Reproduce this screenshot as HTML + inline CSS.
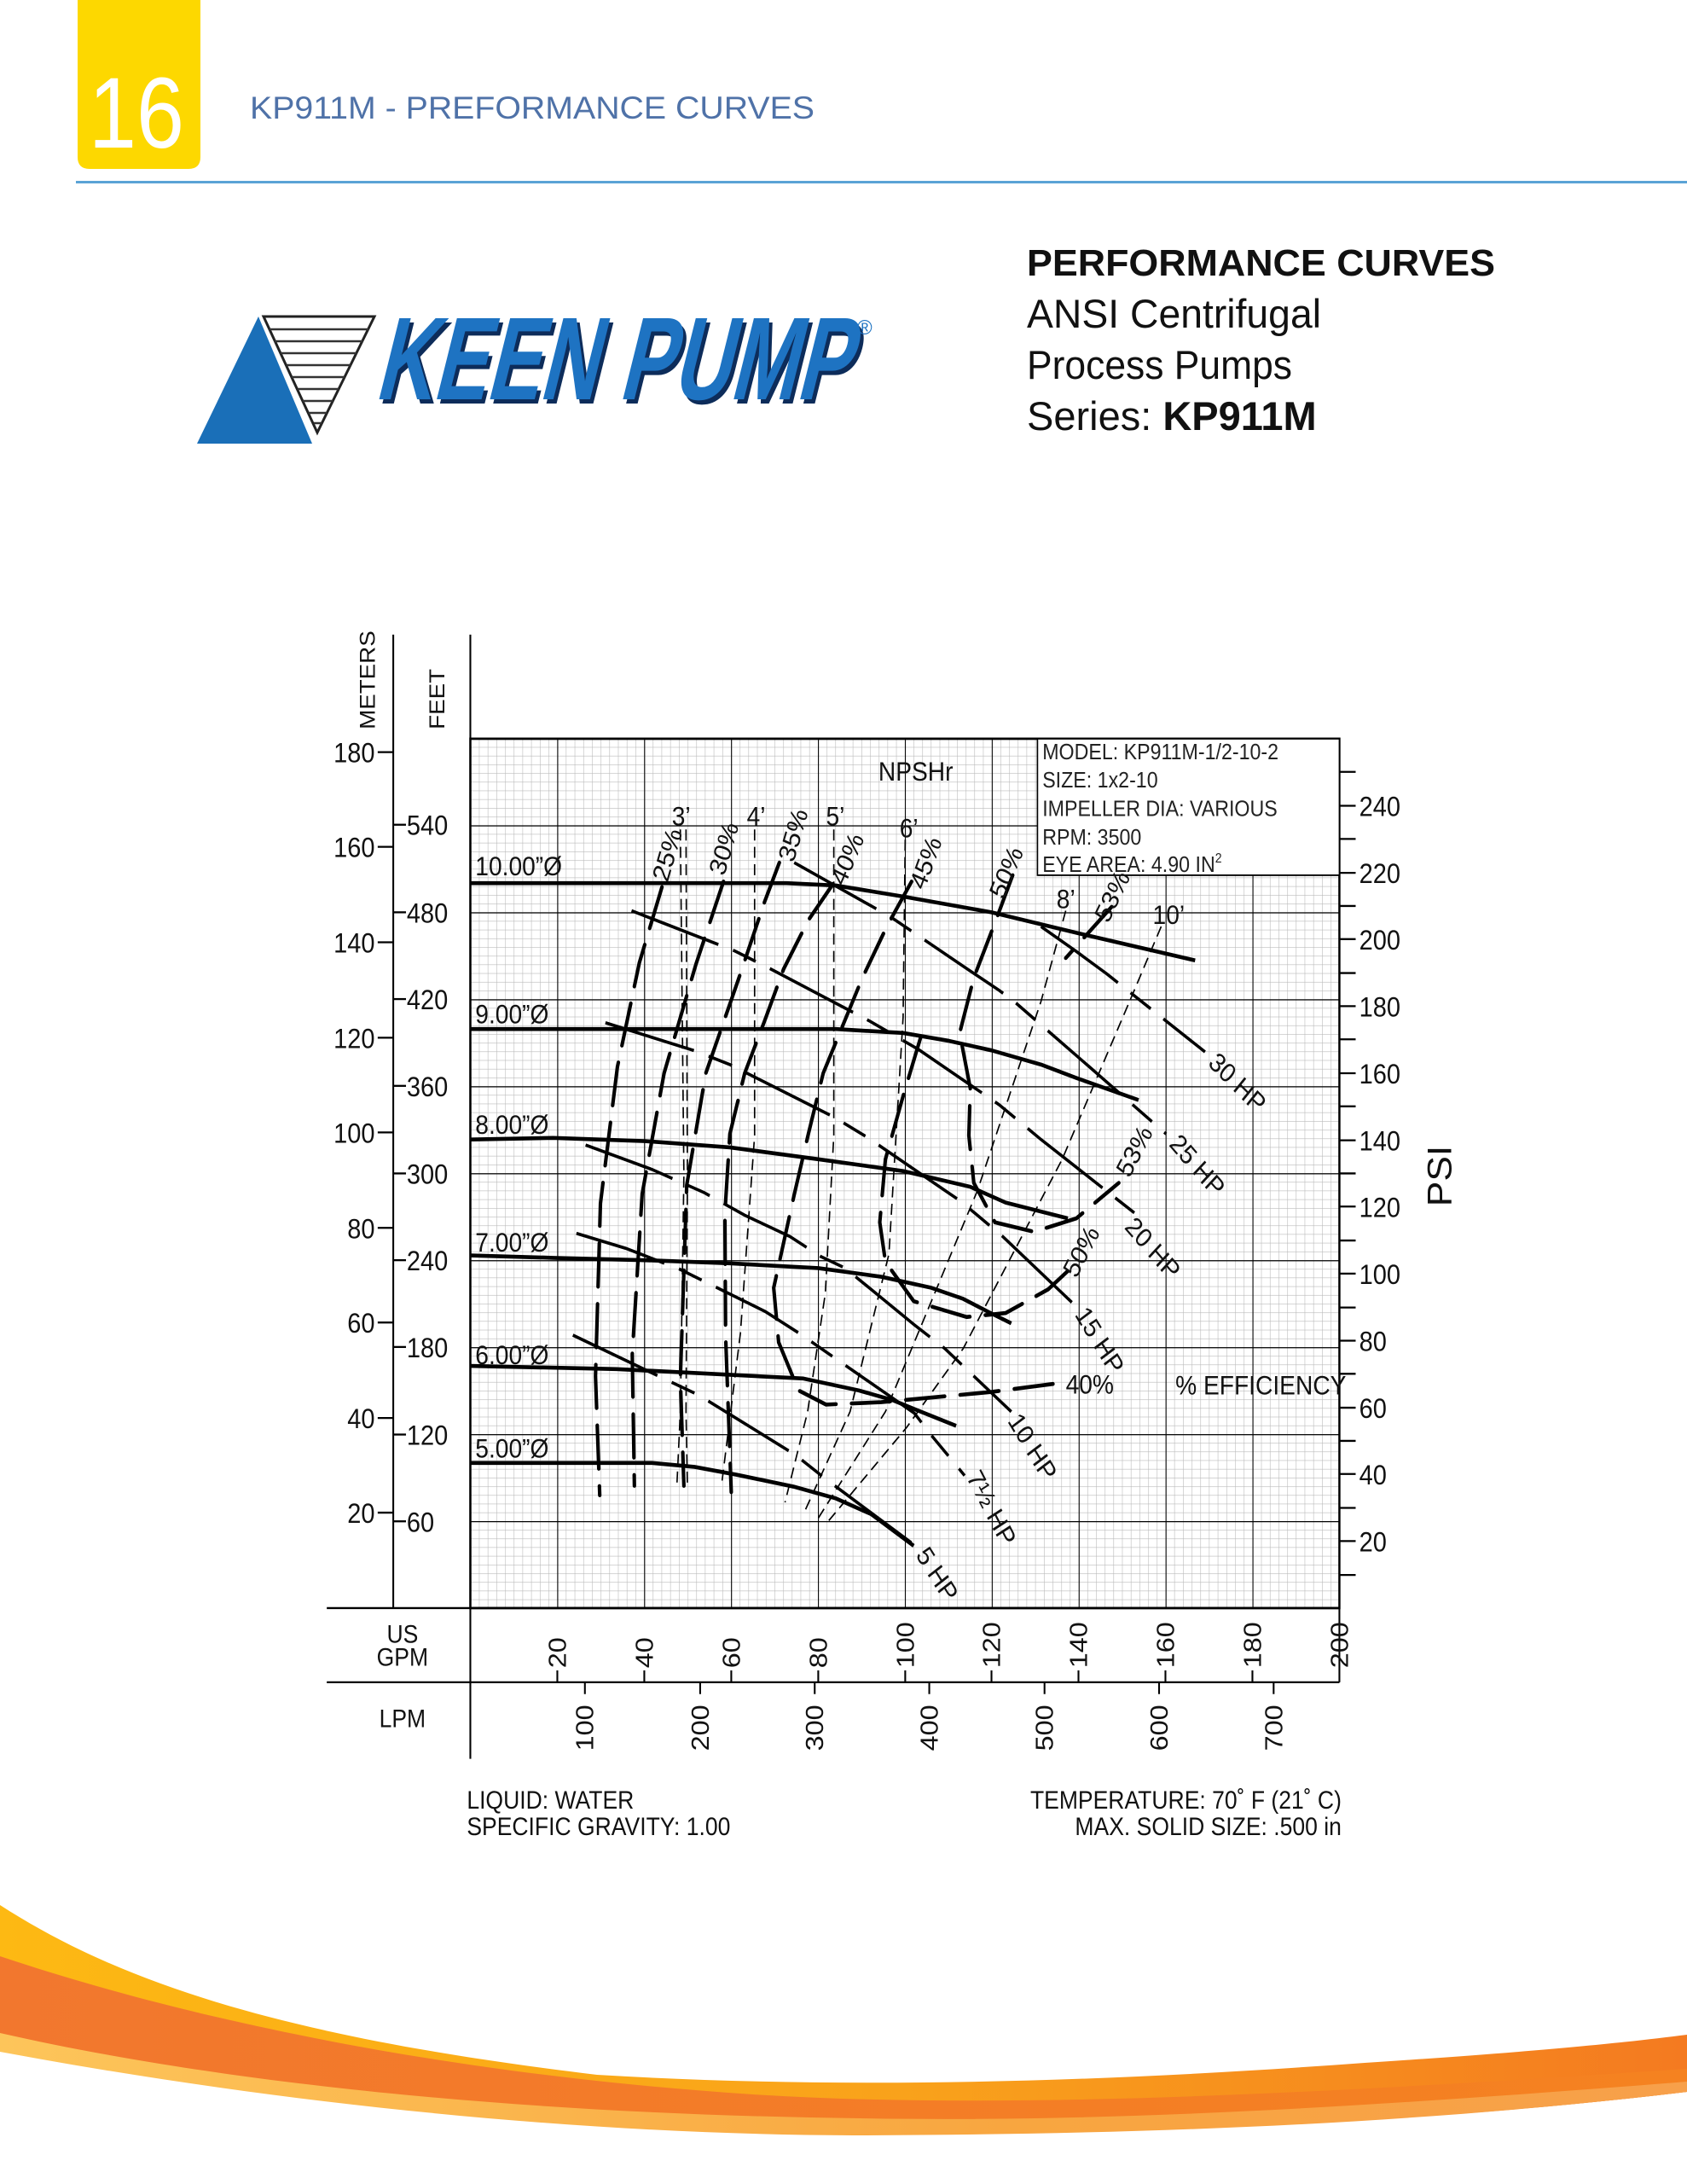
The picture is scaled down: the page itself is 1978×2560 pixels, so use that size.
<!DOCTYPE html>
<html><head><meta charset="utf-8"><style>
html,body{margin:0;padding:0;background:#fff;}
svg{display:block;}
text{font-family:"Liberation Sans",sans-serif;}
</style></head><body>
<svg xmlns="http://www.w3.org/2000/svg" width="1978" height="2560" viewBox="0 0 1978 2560">
<defs>
<linearGradient id="gTop" x1="0" x2="1" y1="0" y2="0"><stop offset="0" stop-color="#fdb913"/><stop offset="0.55" stop-color="#f9a11b"/><stop offset="1" stop-color="#f47a20"/></linearGradient>
<linearGradient id="gMid" x1="0" x2="1" y1="0" y2="0"><stop offset="0" stop-color="#f2772e"/><stop offset="1" stop-color="#f58220"/></linearGradient>
<linearGradient id="gBot" x1="0" x2="1" y1="0" y2="0"><stop offset="0" stop-color="#fdc55a"/><stop offset="0.6" stop-color="#f8a640"/><stop offset="1" stop-color="#f7a04a"/></linearGradient>
<pattern id="minor" patternUnits="userSpaceOnUse" x="243" y="1249" width="12.29" height="11.025"><path d="M0 0V11.025M0 0H12.29" stroke="#b9b9b9" stroke-width="1.4" fill="none"/></pattern>
<pattern id="major" patternUnits="userSpaceOnUse" x="243" y="1249" width="122.9" height="110.25"><path d="M0 0V110.25M0 0H122.9" stroke="#000" stroke-width="2.6" fill="none"/></pattern>
</defs>

<!-- header -->
<path d="M91 0H235V184Q235 198 221 198H105Q91 198 91 184Z" fill="#fdd800"/>
<text x="160" y="173" font-size="118" fill="#fff" text-anchor="middle" textLength="112" lengthAdjust="spacingAndGlyphs">16</text>
<text x="293" y="139" font-size="37" fill="#4f72a8" textLength="662" lengthAdjust="spacingAndGlyphs">KP911M - PREFORMANCE CURVES</text>
<rect x="89" y="212" width="1889" height="3" fill="#5aa3d6"/>

<!-- logo -->
<polygon points="231,520 303,371 366,520" fill="#1a6fb8"/>
<polygon points="309,371 439,371 372,507" fill="#fff" stroke="#222" stroke-width="3"/>
<g stroke="#333" stroke-width="2.5">
<line x1="316" y1="386" x2="432" y2="386"/><line x1="322" y1="400" x2="425" y2="400"/><line x1="329" y1="414" x2="418" y2="414"/><line x1="336" y1="428" x2="411" y2="428"/><line x1="342" y1="442" x2="404" y2="442"/><line x1="349" y1="456" x2="397" y2="456"/><line x1="355" y1="470" x2="390" y2="470"/><line x1="362" y1="484" x2="383" y2="484"/><line x1="368" y1="496" x2="377" y2="496"/>
</g>
<g transform="skewX(-14)">
<text x="560" y="473" font-size="138" font-weight="bold" fill="#0d2c5a" textLength="556" lengthAdjust="spacingAndGlyphs" font-family="Liberation Sans Narrow, Liberation Sans, sans-serif">KEEN PUMP</text>
<text x="555" y="468" font-size="138" font-weight="bold" fill="#1e73c2" textLength="556" lengthAdjust="spacingAndGlyphs" font-family="Liberation Sans Narrow, Liberation Sans, sans-serif">KEEN PUMP</text>
</g>
<text x="1005" y="392" font-size="24" fill="#1e73c2">®</text>

<text x="1204" y="323" font-size="44" font-weight="bold" fill="#111" textLength="549" lengthAdjust="spacingAndGlyphs">PERFORMANCE CURVES</text>
<text x="1204" y="384" font-size="47" fill="#111" textLength="345" lengthAdjust="spacingAndGlyphs">ANSI Centrifugal</text>
<text x="1204" y="444" font-size="47" fill="#111" textLength="311" lengthAdjust="spacingAndGlyphs">Process Pumps</text>
<text x="1204" y="504" font-size="47" fill="#111">Series: <tspan font-weight="bold">KP911M</tspan></text>

<!-- chart in zoom coords -->
<g transform="translate(350,730) scale(0.8291,0.9247)">
<rect x="243" y="147" width="1229" height="1102" fill="url(#minor)"/>
<rect x="243" y="147" width="1229" height="1102" fill="url(#major)"/>
<rect x="243" y="147" width="1229" height="1102" fill="none" stroke="#000" stroke-width="3"/>
<!-- info box -->
<rect x="1045" y="147" width="427" height="173" fill="#fff" stroke="#000" stroke-width="2"/>
<g font-size="28" fill="#222">
<text x="1052" y="173">MODEL: KP911M-1/2-10-2</text>
<text x="1052" y="209">SIZE: 1x2-10</text>
<text x="1052" y="245">IMPELLER DIA: VARIOUS</text>
<text x="1052" y="281">RPM: 3500</text>
<text x="1052" y="316">EYE AREA: 4.90 IN<tspan font-size="17" dy="-12">2</tspan></text>
</g>
<!-- axes frame -->
<g stroke="#000" stroke-width="2.5" fill="none">
<line x1="134" y1="15" x2="134" y2="1249"/>
<line x1="243" y1="15" x2="243" y2="1440"/>
<line x1="40" y1="1249" x2="1472" y2="1249"/>
<line x1="40" y1="1343" x2="1472" y2="1343"/>
<line x1="1472" y1="1249" x2="1472" y2="1343"/>
</g>
<g font-size="30" fill="#111">
<text transform="translate(108,135) rotate(-90)">METERS</text>
<text transform="translate(206,135) rotate(-90)">FEET</text>
<text x="147" y="1293" text-anchor="middle" font-size="32">US</text>
<text x="147" y="1322" text-anchor="middle" font-size="32">GPM</text>
<text x="147" y="1400" text-anchor="middle" font-size="32">LPM</text>
</g>
<!-- meters -->
<g stroke="#000" stroke-width="2.5">
<line x1="112" y1="164" x2="134" y2="164"/><line x1="112" y1="284" x2="134" y2="284"/><line x1="112" y1="405" x2="134" y2="405"/><line x1="112" y1="526" x2="134" y2="526"/><line x1="112" y1="646" x2="134" y2="646"/><line x1="112" y1="767" x2="134" y2="767"/><line x1="112" y1="887" x2="134" y2="887"/><line x1="112" y1="1008" x2="134" y2="1008"/><line x1="112" y1="1128" x2="134" y2="1128"/>
<line x1="134" y1="256" x2="152" y2="256"/><line x1="134" y1="367" x2="152" y2="367"/><line x1="134" y1="477" x2="152" y2="477"/><line x1="134" y1="587" x2="152" y2="587"/><line x1="134" y1="698" x2="152" y2="698"/><line x1="134" y1="808" x2="152" y2="808"/><line x1="134" y1="918" x2="152" y2="918"/><line x1="134" y1="1029" x2="152" y2="1029"/><line x1="134" y1="1139" x2="152" y2="1139"/>
</g>
<g font-size="35" fill="#111" text-anchor="end">
<text x="108" y="177">180</text><text x="108" y="297">160</text><text x="108" y="418">140</text><text x="108" y="539">120</text><text x="108" y="659">100</text><text x="108" y="780">80</text><text x="108" y="900">60</text><text x="108" y="1021">40</text><text x="108" y="1141">20</text>
</g>
<g font-size="35" fill="#111">
<text x="153" y="269">540</text><text x="153" y="380">480</text><text x="153" y="490">420</text><text x="153" y="600">360</text><text x="153" y="711">300</text><text x="153" y="821">240</text><text x="153" y="931">180</text><text x="153" y="1042">120</text><text x="153" y="1152">60</text>
</g>
<!-- psi -->
<g stroke="#000" stroke-width="2.5">
<line x1="1472" y1="1207" x2="1495" y2="1207"/><line x1="1472" y1="1164" x2="1495" y2="1164"/><line x1="1472" y1="1122" x2="1495" y2="1122"/><line x1="1472" y1="1079" x2="1495" y2="1079"/><line x1="1472" y1="1037" x2="1495" y2="1037"/><line x1="1472" y1="995" x2="1495" y2="995"/><line x1="1472" y1="952" x2="1495" y2="952"/><line x1="1472" y1="910" x2="1495" y2="910"/><line x1="1472" y1="868" x2="1495" y2="868"/><line x1="1472" y1="825" x2="1495" y2="825"/><line x1="1472" y1="783" x2="1495" y2="783"/><line x1="1472" y1="740" x2="1495" y2="740"/><line x1="1472" y1="698" x2="1495" y2="698"/><line x1="1472" y1="656" x2="1495" y2="656"/><line x1="1472" y1="613" x2="1495" y2="613"/><line x1="1472" y1="571" x2="1495" y2="571"/><line x1="1472" y1="528" x2="1495" y2="528"/><line x1="1472" y1="486" x2="1495" y2="486"/><line x1="1472" y1="444" x2="1495" y2="444"/><line x1="1472" y1="401" x2="1495" y2="401"/><line x1="1472" y1="359" x2="1495" y2="359"/><line x1="1472" y1="317" x2="1495" y2="317"/><line x1="1472" y1="274" x2="1495" y2="274"/><line x1="1472" y1="232" x2="1495" y2="232"/><line x1="1472" y1="189" x2="1495" y2="189"/>
</g>
<g font-size="35" fill="#111">
<text x="1500" y="1177">20</text><text x="1500" y="1092">40</text><text x="1500" y="1008">60</text><text x="1500" y="923">80</text><text x="1500" y="838">100</text><text x="1500" y="753">120</text><text x="1500" y="669">140</text><text x="1500" y="584">160</text><text x="1500" y="499">180</text><text x="1500" y="414">200</text><text x="1500" y="330">220</text><text x="1500" y="245">240</text>
</g>
<text transform="translate(1630,740) rotate(-90)" font-size="48" fill="#111">PSI</text>
<!-- gpm -->
<g stroke="#000" stroke-width="2.5">
<line x1="366" y1="1328" x2="366" y2="1343"/><line x1="489" y1="1328" x2="489" y2="1343"/><line x1="612" y1="1328" x2="612" y2="1343"/><line x1="735" y1="1328" x2="735" y2="1343"/><line x1="858" y1="1328" x2="858" y2="1343"/><line x1="980" y1="1328" x2="980" y2="1343"/><line x1="1103" y1="1328" x2="1103" y2="1343"/><line x1="1226" y1="1328" x2="1226" y2="1343"/><line x1="1349" y1="1328" x2="1349" y2="1343"/>
<line x1="405" y1="1343" x2="405" y2="1358"/><line x1="568" y1="1343" x2="568" y2="1358"/><line x1="730" y1="1343" x2="730" y2="1358"/><line x1="892" y1="1343" x2="892" y2="1358"/><line x1="1055" y1="1343" x2="1055" y2="1358"/><line x1="1217" y1="1343" x2="1217" y2="1358"/><line x1="1379" y1="1343" x2="1379" y2="1358"/>
</g>
<g font-size="35" fill="#111">
<text transform="translate(378,1325) rotate(-90)">20</text><text transform="translate(501,1325) rotate(-90)">40</text><text transform="translate(624,1325) rotate(-90)">60</text><text transform="translate(747,1325) rotate(-90)">80</text><text transform="translate(870,1325) rotate(-90)">100</text><text transform="translate(992,1325) rotate(-90)">120</text><text transform="translate(1115,1325) rotate(-90)">140</text><text transform="translate(1238,1325) rotate(-90)">160</text><text transform="translate(1361,1325) rotate(-90)">180</text><text transform="translate(1484,1325) rotate(-90)">200</text>
<text transform="translate(417,1430) rotate(-90)">100</text><text transform="translate(580,1430) rotate(-90)">200</text><text transform="translate(742,1430) rotate(-90)">300</text><text transform="translate(904,1430) rotate(-90)">400</text><text transform="translate(1067,1430) rotate(-90)">500</text><text transform="translate(1229,1430) rotate(-90)">600</text><text transform="translate(1391,1430) rotate(-90)">700</text>
</g>
<!-- NPSH thin dashed -->
<g fill="none" stroke="#000" stroke-width="2" stroke-dasharray="14,8">
<polyline points="540,262 545,700 540,1000 535,1095"/>
<polyline points="548,262 550,700 548,1000 550,1095"/>
<polyline points="645,262 645,650 625,900 598,1095"/>
<polyline points="757,262 757,650 745,850 720,1000 688,1115"/>
<polyline points="858,275 855,500 835,800 780,1000 715,1128"/>
<polyline points="1085,365 1050,480 960,720 830,1000 735,1135"/>
<polyline points="1220,385 1180,470 1080,680 940,920 860,1020 750,1138"/>
</g>
<!-- efficiency heavy dashed -->
<g fill="none" stroke="#000" stroke-width="5" stroke-dasharray="55,22" stroke-linecap="round">
<polyline points="514,335 482,431 451,563 427,736 420,955 426,1106"/>
<polyline points="601,328 562,433 517,571 486,724 472,927 475,1094"/>
<polyline points="680,304 659,354 621,455 576,571 549,713 540,958 545,1094"/>
<polyline points="756,331 721,377 686,439 659,505 631,571 610,648 603,748 604,904 612,1102"/>
<polyline points="867,328 832,385 797,451 769,512 742,571 721,648 701,725 672,843 679,912 707,973 746,991 824,988 980,975 1083,963"/>
<polyline points="1010,320 985,380 955,450 935,520 950,590 948,650 955,710 985,760 1040,772 1100,755 1160,710"/>
<polyline points="880,525 855,600 830,680 822,760 830,810 870,860 945,880 1000,875 1060,845 1090,820"/>
<polyline points="1150,360 1115,395 1085,425"/>
</g>
<!-- HP lines -->
<g fill="none" stroke="#000" stroke-width="4" stroke-dasharray="130,22,35,22">
<polyline points="701,304 812,360 836,372 946,439 991,466 1012,480 1116,561 1227,648"/>
<polyline points="1050,385 1099,416 1143,445 1282,544"/>
<polyline points="471,365 617,416 666,438 808,505 877,541 991,611 1050,655 1182,748"/>
<polyline points="434,507 562,543 610,560 756,626 804,652 936,733 996,778 1099,866"/>
<polyline points="406,662 500,693 573,722 631,751 695,778 738,803 773,818 871,890 914,920 1008,1000"/>
<polyline points="393,774 463,793 538,819 660,873 707,900 871,1002 895,1030 942,1081"/>
<polyline points="388,903 514,957 566,979 703,1055 745,1085 871,1169"/>
</g>
<!-- head curves -->
<g fill="none" stroke="#000" stroke-width="5" stroke-linejoin="round">
<polyline points="243,330 690,330 760,333 855,347 980,367 1100,393 1268,428"/>
<polyline points="243,515 760,515 855,520 920,530 980,542 1050,560 1100,577 1188,605"/>
<polyline points="243,655 360,653 490,657 610,665 735,680 855,695 950,715 1000,735 1088,755"/>
<polyline points="243,802 360,805 490,808 610,812 735,818 824,829 895,843 940,857 981,876 1008,888"/>
<polyline points="243,942 450,946 714,958 792,973 839,985 880,1000 930,1018"/>
<polyline points="243,1065 500,1065 560,1070 620,1080 700,1095 760,1110 810,1130 840,1150 870,1170"/>
</g>
<!-- labels -->
<g font-size="34" fill="#111">
<text x="250" y="320">10.00”Ø</text>
<text x="250" y="508">9.00”Ø</text>
<text x="250" y="648">8.00”Ø</text>
<text x="250" y="797">7.00”Ø</text>
<text x="250" y="940">6.00”Ø</text>
<text x="250" y="1058">5.00”Ø</text>
<text x="820" y="200">NPSHr</text>
<text x="528" y="257">3’</text><text x="634" y="257">4’</text><text x="746" y="257">5’</text><text x="850" y="272">6’</text><text x="1072" y="362">8’</text><text x="1208" y="382">10’</text>
<text x="1085" y="977">40%</text>
<text x="1240" y="978">%  EFFICIENCY</text>
<text transform="translate(522,330) rotate(-72)">25%</text>
<text transform="translate(602,322) rotate(-72)">30%</text>
<text transform="translate(700,305) rotate(-72)">35%</text>
<text transform="translate(772,335) rotate(-65)">40%</text>
<text transform="translate(885,340) rotate(-68)">45%</text>
<text transform="translate(997,352) rotate(-65)">50%</text>
<text transform="translate(1145,382) rotate(-62)">53%</text>
<text transform="translate(1175,705) rotate(-60)">53%</text>
<text transform="translate(1100,832) rotate(-60)">50%</text>
<text transform="translate(1285,560) rotate(42)">30  HP</text>
<text transform="translate(1230,662) rotate(46)">25  HP</text>
<text transform="translate(1167,767) rotate(46)">20  HP</text>
<text transform="translate(1097,877) rotate(56)">15  HP</text>
<text transform="translate(1002,1012) rotate(56)">10  HP</text>
<text transform="translate(944,1083) rotate(60)">7½  HP</text>
<text transform="translate(872,1182) rotate(55)">5  HP</text>
</g>
<g font-size="32" fill="#111">
<text x="238" y="1503">LIQUID:  WATER</text>
<text x="238" y="1537">SPECIFIC  GRAVITY:  1.00</text>
<text x="1475" y="1503" text-anchor="end">TEMPERATURE:  70˚  F  (21˚  C)</text>
<text x="1475" y="1537" text-anchor="end">MAX.  SOLID  SIZE:  .500  in</text>
</g>
</g>

<!-- swoosh -->
<path d="M0 2233 C150 2330 350 2390 700 2432 C1000 2450 1300 2440 1600 2418 C1800 2405 1900 2395 1978 2385 L1978 2452 C1700 2485 1400 2500 1000 2502 C700 2500 350 2470 0 2392 Z" fill="url(#gTop)"/>
<path d="M0 2293 C200 2360 500 2430 883 2455 C1200 2475 1600 2450 1978 2425 L1978 2452 C1700 2485 1400 2500 1000 2502 C700 2500 350 2470 0 2392 Z" fill="url(#gMid)"/>
<path d="M0 2383 C250 2440 600 2478 1009 2483 C1300 2488 1600 2470 1978 2440 L1978 2452 C1700 2485 1400 2502 1000 2503 C700 2502 350 2470 0 2405 Z" fill="url(#gBot)"/>
</svg>
</body></html>
